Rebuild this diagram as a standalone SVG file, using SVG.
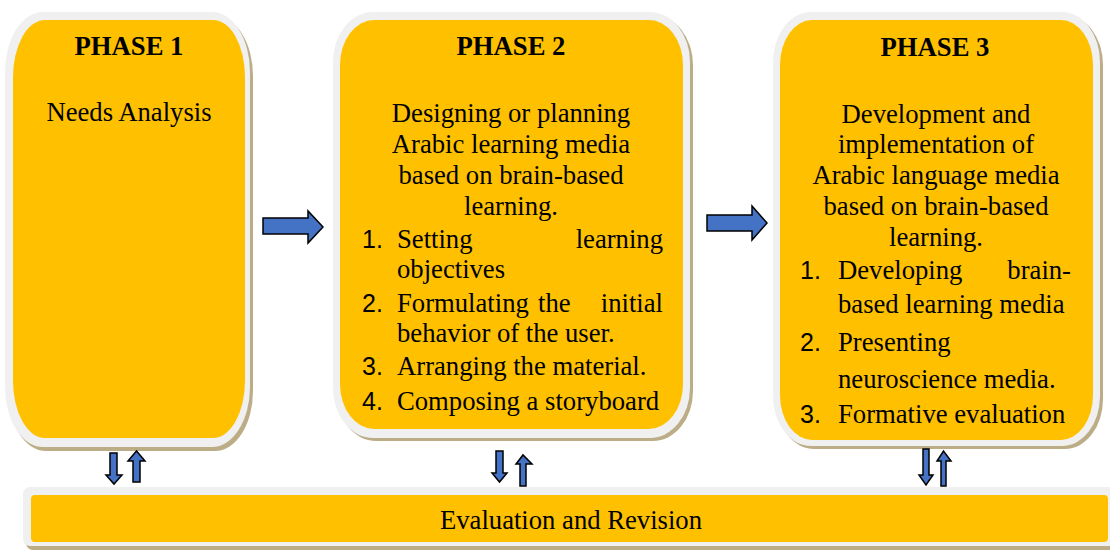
<svg xmlns="http://www.w3.org/2000/svg" width="1110" height="551" viewBox="0 0 1110 551">
<style>
.sh{fill:#bcad87}
.rim{fill:#f0f0f0}
.fill{fill:#ffc000}
.t{font-family:"Liberation Serif","Times New Roman",serif;font-size:26.67px;fill:#000}
.h{font-family:"Liberation Serif","Times New Roman",serif;font-size:26.67px;font-weight:bold;fill:#000}
.n{font-family:"Liberation Sans",Arial,sans-serif;font-size:25px;fill:#000}
.c{text-anchor:middle}
.e{text-anchor:end}
.ar{fill:#4472c4;stroke:#000;stroke-width:1.5;stroke-linejoin:miter}
</style>
<rect width="1110" height="551" fill="#fff"/>

<g id="phase1">
<rect class="sh" x="8" y="16" width="245" height="435" rx="38" ry="60"/>
<rect class="rim" x="5" y="12" width="245" height="435" rx="38" ry="60"/>
<rect class="fill" x="13" y="20" width="232" height="418" rx="32" ry="57"/>
<text class="h c" x="129" y="55">PHASE 1</text>
<text class="t c" x="129" y="121">Needs Analysis</text>
</g>

<g id="phase2">
<rect class="sh" x="336" y="15" width="357" height="426" rx="40" ry="50"/>
<rect class="rim" x="333" y="12" width="357" height="426" rx="40" ry="50"/>
<rect class="fill" x="340" y="20" width="343" height="409" rx="34" ry="45"/>
<text class="h c" x="511" y="55">PHASE 2</text>
<text class="t c" x="511" y="122">Designing or planning</text>
<text class="t c" x="511" y="153">Arabic learning media</text>
<text class="t c" x="511" y="184">based on brain-based</text>
<text class="t c" x="511" y="215">learning.</text>
<text class="n" x="362" y="248">1.</text>
<text class="t" x="397" y="248">Setting</text>
<text class="t e" x="663" y="248">learning</text>
<text class="t" x="397" y="278">objectives</text>
<text class="n" x="362" y="312">2.</text>
<text class="t" x="397" y="312">Formulating</text>
<text class="t" x="538" y="312">the</text>
<text class="t e" x="663" y="312">initial</text>
<text class="t" x="397" y="342">behavior of the user.</text>
<text class="n" x="362" y="375">3.</text>
<text class="t" x="397" y="375">Arranging the material.</text>
<text class="n" x="362" y="410">4.</text>
<text class="t" x="397" y="410">Composing a storyboard</text>
</g>

<g id="phase3">
<rect class="sh" x="776" y="15" width="327" height="434" rx="38" ry="50"/>
<rect class="rim" x="773" y="12" width="327" height="434" rx="38" ry="50"/>
<rect class="fill" x="780" y="20" width="313" height="420" rx="32" ry="45"/>
<text class="h c" x="935" y="56">PHASE 3</text>
<text class="t c" x="936" y="123">Development and</text>
<text class="t c" x="936" y="153">implementation of</text>
<text class="t c" x="936" y="184">Arabic language media</text>
<text class="t c" x="936" y="215">based on brain-based</text>
<text class="t c" x="936" y="246">learning.</text>
<text class="n" x="800" y="279">1.</text>
<text class="t" x="838" y="279">Developing</text>
<text class="t e" x="1071" y="279">brain-</text>
<text class="t" x="838" y="313">based learning media</text>
<text class="n" x="800" y="351">2.</text>
<text class="t" x="838" y="351">Presenting</text>
<text class="t" x="838" y="388">neuroscience media.</text>
<text class="n" x="800" y="423">3.</text>
<text class="t" x="838" y="423">Formative evaluation</text>
</g>

<g id="evaluation">
<rect class="sh" x="26" y="490" width="1100" height="60" rx="7"/>
<rect class="rim" x="23" y="487" width="1100" height="59" rx="7"/>
<rect class="fill" x="31" y="495" width="1077" height="47" rx="4"/>
<text class="t c" x="571" y="529">Evaluation and Revision</text>
</g>

<g id="connectors">
<polygon class="ar" points="263,218 308,218 308,211 323,227 308,243 308,234 263,234"/>
<polygon class="ar" points="707,215 752,215 752,206 767,223 752,240 752,231 707,231"/>
<polygon class="ar" points="110,453 117,453 117,475 122,475 114,484 106,475 110,475"/>
<polygon class="ar" points="133,482 140,482 140,461 145,461 136.5,451 128,461 133,461"/>
<polygon class="ar" points="496,451 503,451 503,473 507,473 499.5,482 492,473 496,473"/>
<polygon class="ar" points="520,486 526,486 526,464 532,464 523,455 516,464 520,464"/>
<polygon class="ar" points="923,449 929,449 929,475 933,475 926,485 919,475 923,475"/>
<polygon class="ar" points="941,486 946,486 946,461 951,461 943.5,451 937,461 941,461"/>
</g>
</svg>
